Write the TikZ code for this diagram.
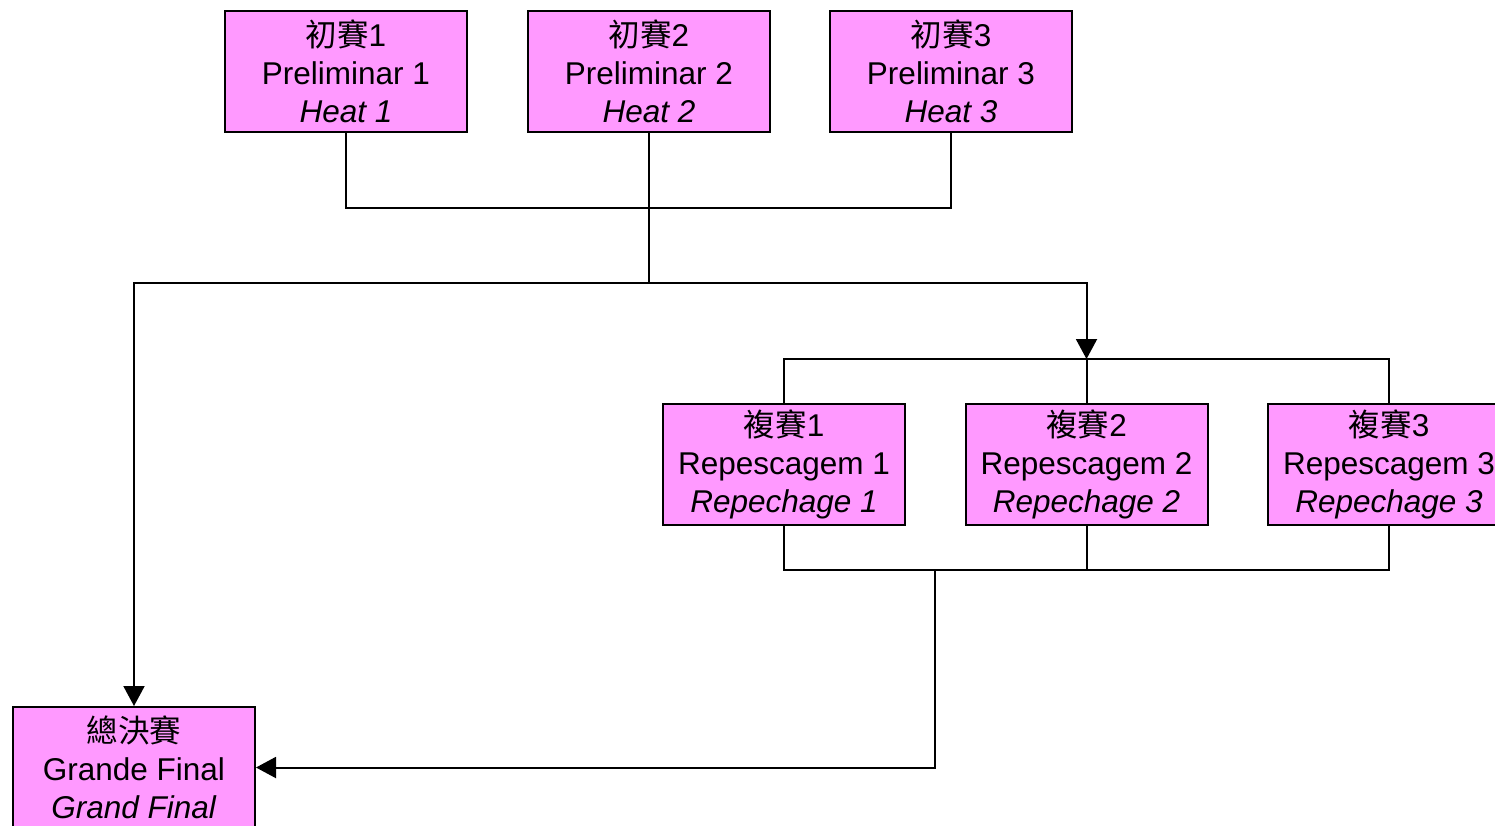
\documentclass[tikz,border=0pt]{standalone}
\usepackage{fontspec}
\setmainfont{Liberation Sans}
\newfontfamily\cjk{Noto Sans CJK TC}
\usetikzlibrary{arrows.meta}
\definecolor{boxpink}{RGB}{255,153,255}
\begin{document}
\begin{tikzpicture}[x=1pt,y=1pt,
  stage/.style={draw=black, line width=2pt, fill=boxpink, minimum width=242pt, minimum height=121pt,
    inner sep=0pt, align=center, font=\fontsize{31.5}{38}\selectfont},
  link/.style={line width=2pt, draw=black},
  arr/.style={link, -{Triangle[length=20pt,width=21pt]}}]
\useasboundingbox (0,0) rectangle (1495,-825);
\clip (0,0) rectangle (1495,-825);
% boxes
\node[stage] (h1) at (346,-71.5) {{\cjk 初賽}1\\Preliminar 1\\\textit{Heat 1}};
\node[stage] (h2) at (649,-71.5) {{\cjk 初賽}2\\Preliminar 2\\\textit{Heat 2}};
\node[stage] (h3) at (951,-71.5) {{\cjk 初賽}3\\Preliminar 3\\\textit{Heat 3}};
\node[stage] (r1) at (784,-464.5) {{\cjk 複賽}1\\Repescagem 1\\\textit{Repechage 1}};
\node[stage] (r2) at (1086.5,-464.5) {{\cjk 複賽}2\\Repescagem 2\\\textit{Repechage 2}};
\node[stage] (r3) at (1389,-464.5) {{\cjk 複賽}3\\Repescagem 3\\\textit{Repechage 3}};
\node[stage] (gf) at (134,-767.5) {{\cjk 總決賽}\\Grande Final\\\textit{Grand Final}};
% junctions
\coordinate (j1) at (649,-208);
\coordinate (j2) at (649,-283);
\coordinate (j3) at (1086.5,-359);
\coordinate (j4) at (1086.5,-570);
\coordinate (j5) at (935,-570);
% connectors
\draw[link] (h1.south) |- (j1) -| (h3.south);
\draw[link] (h2.south) -- (j2);
\draw[arr] (j2) -| (gf.north);
\draw[arr] (j2) -| (j3);
\draw[link] (r1.north) |- (j3) -| (r3.north);
\draw[link] (r2.north) -- (j3);
\draw[link] (r1.south) |- (j4) -| (r3.south);
\draw[link] (r2.south) -- (j4);
\draw[arr] (j5) |- (gf.east);
\end{tikzpicture}
\end{document}
